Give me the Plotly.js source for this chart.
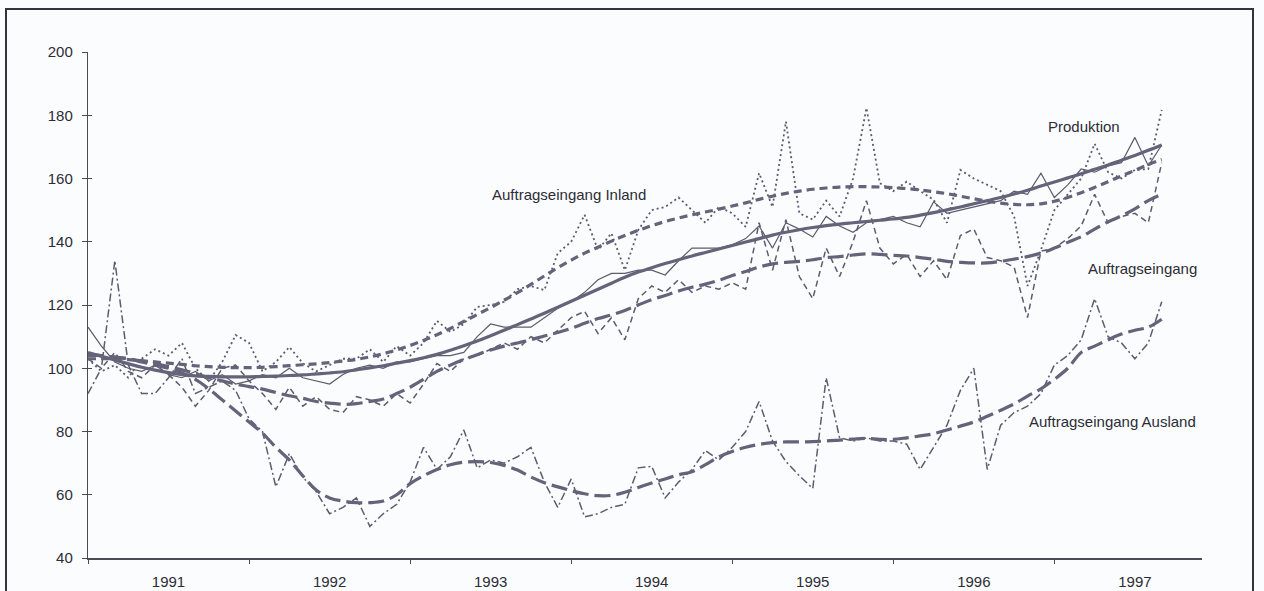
<!DOCTYPE html>
<html>
<head>
<meta charset="utf-8">
<script src="https://cdn.plot.ly/plotly-3.0.1.min.js"></script>
<style>
  html, body { margin: 0; padding: 0; background: #fbfcfd; overflow: hidden; }
  #chart { position: absolute; left: 0; top: 0; width: 1264px; height: 591px; }
  #frame { position: absolute; left: 5px; top: 8px; width: 1249px; height: 640px;
           border: 2px solid #34343f; box-sizing: border-box; pointer-events: none; }
</style>
</head>
<body>
<div id="chart"></div>
<div id="frame"></div>
<script>
// Monthly data, January 1991 to September 1997
const startYear = 1991;
const nMonths = 81;
const monthLabels = [];
const monthIndex = [];
for (let i = 0; i < nMonths; i++) {
  monthIndex.push(i);
  const y = startYear + Math.floor(i / 12);
  const m = (i % 12) + 1;
  monthLabels.push(y + '-' + (m < 10 ? '0' + m : m));
}

const yearLabels = ['1991', '1992', '1993', '1994', '1995', '1996', '1997'];
const yearLabelPos = [6, 18, 30, 42, 54, 66, 78];
const yTicks = [40, 60, 80, 100, 120, 140, 160, 180, 200];

// Produktion (raw and trend)
const produktion = [
  113, 107, 102, 100, 99, 101, 98, 97, 99, 96, 98, 95,
  96, 98, 97, 100, 97, 96, 95, 98, 100, 101, 100, 102,
  102, 103, 104, 104, 105, 110, 114, 113, 113, 113, 116, 119,
  121, 124, 128, 130, 130, 131, 131, 129.5, 134, 138, 138, 138,
  139, 141, 145, 138, 146, 144, 141.5, 148, 145, 143, 146, 147,
  148, 146, 144.7, 152.6, 149, 150, 151, 152, 153, 156, 155, 161.7,
  154, 158, 163, 162, 164, 165, 173, 164, 170.6
];
const produktionTrend = [
  105, 103.8, 102.6, 101.4, 100.3, 99.4, 98.6, 98, 97.6, 97.4, 97.3, 97.3,
  97.3, 97.4, 97.5, 97.7, 97.9, 98.2, 98.5, 98.9, 99.5, 100.1, 100.8, 101.6,
  102.4, 103.3, 104.4, 105.7, 107.1, 108.6, 110.3, 112, 113.8, 115.6, 117.4, 119.3,
  121.2, 123.1, 125, 126.9, 128.8, 130.4, 131.8, 133.1, 134.3, 135.5, 136.6, 137.7,
  138.8, 139.9, 141, 142.1, 143, 143.8, 144.5, 145.1, 145.6, 146, 146.4, 146.8,
  147.2, 147.7, 148.4, 149.2, 150.1, 151, 152, 153, 154, 155.1, 156.3, 157.6,
  158.9, 160.2, 161.5, 162.9, 164.3, 165.8, 167.3, 168.9, 170.6
];

// Auftragseingang gesamt (raw and trend)
const auftrag = [
  103, 100, 105, 99, 97, 101, 98, 94, 88, 93, 100, 101,
  96, 92, 87, 94, 88, 91, 87, 86, 91, 90, 88, 92,
  89, 95, 101.5, 99, 103, 104, 106, 108, 106, 110, 108, 112,
  116, 118, 111, 116, 109, 122, 126, 124, 128, 124, 126, 125,
  127, 125, 146, 131, 147, 129, 122, 138, 129, 140, 153, 138,
  133, 136, 129, 134, 128, 142, 144, 135, 134, 132, 116, 137,
  138, 141, 145, 155, 146, 148, 149, 146, 165
];
const auftragTrend = [
  104.5, 104, 103.5, 103, 102.3, 101.5, 100.5, 99.5, 98.3, 97, 96, 95,
  94.2, 93.4, 92.3, 91.3, 90.5, 89.5, 89, 88.6, 88.8, 89.5, 90.3, 92,
  94, 96.5, 99, 101, 102.8, 104.3, 105.8, 107, 108, 109, 110.2, 111.3,
  112.6, 114.2, 115.7, 116.9, 118.3, 120, 121.7, 123, 124.4, 125.6, 126.6, 127.8,
  129.3, 130.6, 132, 133, 133.5, 133.8, 134.3, 135, 135.3, 135.8, 136.2, 136,
  135.7, 135.5, 135, 134.5, 133.8, 133.5, 133.3, 133.3, 133.8, 134.5, 135.3, 136.4,
  138, 139.8, 141.6, 144, 146.3, 148.2, 150.4, 153, 155
];

// Auftragseingang Inland (raw and trend)
const inland = [
  103, 99, 101, 97, 103, 106, 104, 108, 100, 96, 102, 110.5,
  108, 99, 102, 106.7, 101.6, 99, 101, 103, 103, 106, 102, 107,
  104, 108, 115, 111.5, 114, 119.4, 120, 121, 125, 126, 124.7, 136.4,
  140, 148.5, 137.4, 142.7, 131, 143.7, 150, 151, 154, 150, 146, 151,
  149, 144.7, 161.7, 151, 178, 149, 147, 153, 148, 160, 182.3, 158.5,
  156, 159, 156, 153.3, 146, 162.7, 160, 158, 156, 148, 126, 137.4,
  150, 155, 160, 171, 162, 160, 162.7, 163, 181.7
];
const inlandTrend = [
  103, 103, 103, 102.7, 102.4, 102, 101.6, 101.2, 100.8, 100.5, 100.3, 100.2,
  100.2, 100.3, 100.5, 100.8, 101.1, 101.4, 101.8, 102.3, 102.8, 103.6, 104.6, 105.8,
  107.2, 108.8, 110.6, 112.6, 114.8, 117, 119.2, 121.5, 123.9, 126.5, 129.2, 131.8,
  134.2, 136.4, 138.3, 140.2, 142, 143.6, 145.1, 146.4, 147.5, 148.5, 149.4, 150.3,
  151.3, 152.3, 153.4, 154.4, 155.3, 156, 156.6, 157, 157.3, 157.4, 157.4, 157.3,
  157.1, 156.8, 156.4, 155.8, 155.2, 154.4, 153.6, 152.8, 152.2, 151.8, 151.7, 152,
  152.8, 154, 155.5, 157.2, 159, 160.8, 162.6, 164.4, 166
];

// Auftragseingang Ausland (raw and trend)
const ausland = [
  92, 100, 134, 101, 92, 92, 97, 103, 92, 94, 96, 93,
  84, 80, 62.5, 73, 65.6, 61, 54, 56, 59, 50, 54, 57,
  64, 75, 68, 72, 80.5, 68.5, 71, 70, 72, 75, 64, 56,
  65, 53, 54, 56, 57, 68.5, 69, 59, 64, 68, 74, 71,
  75, 80, 89.5, 77, 70.5, 66, 62, 97, 78, 77, 78, 77,
  77, 76, 68, 75, 82, 93, 100, 68, 82, 86, 88, 92,
  101, 104, 109, 122, 110, 108, 103, 108, 121
];
const auslandTrend = [
  104, 104, 103.5, 103, 102, 101, 100, 98.5, 96.5, 93.5, 90, 86.5,
  83, 79.5, 75, 71, 66, 61.5, 59, 58, 57.5, 57.5, 58, 60,
  63.5, 66, 68, 69.5, 70.3, 70.5, 70.2, 69.3, 67.8, 65.6, 63.8, 62.5,
  61.3, 60.3, 59.7, 59.8, 60.8, 62.3, 63.7, 65, 66.3, 67.3, 69.5, 72,
  73.7, 75, 75.9, 76.5, 76.7, 76.7, 76.8, 77, 77.3, 77.6, 77.8, 77.5,
  77.5, 78, 78.6, 79.3, 80.5, 81.7, 83, 84.8, 86.7, 88.7, 91.2, 93.5,
  96.5, 100, 105, 107, 109, 110.8, 112, 113, 115.5
];

const lineCol = '#5d5b6d';
const trendCol = '#65637a';
const textCol = '#2c2c36';
const axisCol = '#4a4a55';

function raw(name, y, width, dash) {
  return { type: 'scatter', mode: 'lines', name: name, x: monthIndex, y: y,
           text: monthLabels, hoverinfo: 'skip',
           line: { color: lineCol, width: width, dash: dash } };
}
function trend(name, y, dash) {
  return { type: 'scatter', mode: 'lines', name: name, x: monthIndex, y: y,
           hoverinfo: 'skip', line: { color: trendCol, width: 3.2, dash: dash, shape: 'spline' } };
}

const traces = [
  raw('Auftragseingang Ausland', ausland, 1.5, '8px,3px,2px,3px'),
  raw('Auftragseingang Inland', inland, 1.8, '2px,3px'),
  raw('Auftragseingang', auftrag, 1.5, '6px,4px'),
  raw('Produktion', produktion, 1.2, 'solid'),
  trend('Trend Ausland', auslandTrend, '16px,6px'),
  trend('Trend Inland', inlandTrend, '8px,5px'),
  trend('Trend Auftragseingang', auftragTrend, '16px,6px'),
  trend('Trend Produktion', produktionTrend, 'solid'),
  { type: 'scatter', mode: 'lines', x: [null], y: [null], yaxis: 'y2', hoverinfo: 'skip', showlegend: false }
];

const font = { family: 'Liberation Sans, Arial, sans-serif', size: 15, color: textCol };

const layout = {
  width: 1264, height: 591,
  margin: { l: 88, r: 62, t: 52, b: 33 },
  paper_bgcolor: '#fbfcfd', plot_bgcolor: '#fbfcfd',
  showlegend: false,
  font: font,
  xaxis: {
    range: [0, 83], showgrid: false, zeroline: false,
    showline: true, linecolor: axisCol, linewidth: 1.5,
    tickmode: 'array', tickvals: yearLabelPos, ticktext: yearLabels,
    ticks: '', ticklabelstandoff: 9,
    tickfont: font,
    minor: { tick0: 0, dtick: 12, ticks: 'outside', ticklen: 4, tickwidth: 1, tickcolor: axisCol, showgrid: false }
  },
  yaxis: {
    range: [40, 200], showgrid: false, zeroline: false,
    showline: true, linecolor: axisCol, linewidth: 1.2,
    tickmode: 'array', tickvals: yTicks,
    ticks: 'outside', ticklen: 5, tickwidth: 1, tickcolor: axisCol,
    ticklabelstandoff: 6,
    tickfont: font
  },
  yaxis2: {
    overlaying: 'y', side: 'left', range: [40, 200],
    showgrid: false, zeroline: false, showline: false,
    tickmode: 'array', tickvals: yTicks, showticklabels: false,
    ticks: 'inside', ticklen: 4, tickwidth: 1, tickcolor: axisCol
  },
  annotations: [
    { text: 'Produktion', x: 74.2, y: 176.3, xref: 'x', yref: 'y', showarrow: false, font: font },
    { text: 'Auftragseingang Inland', x: 35.8, y: 154.8, xref: 'x', yref: 'y', showarrow: false, font: font },
    { text: 'Auftragseingang', x: 78.6, y: 131.7, xref: 'x', yref: 'y', showarrow: false, font: font },
    { text: 'Auftragseingang Ausland', x: 76.3, y: 83.3, xref: 'x', yref: 'y', showarrow: false, font: font }
  ]
};

Plotly.newPlot('chart', traces, layout, { displayModeBar: false, staticPlot: true });
</script>
</body>
</html>
